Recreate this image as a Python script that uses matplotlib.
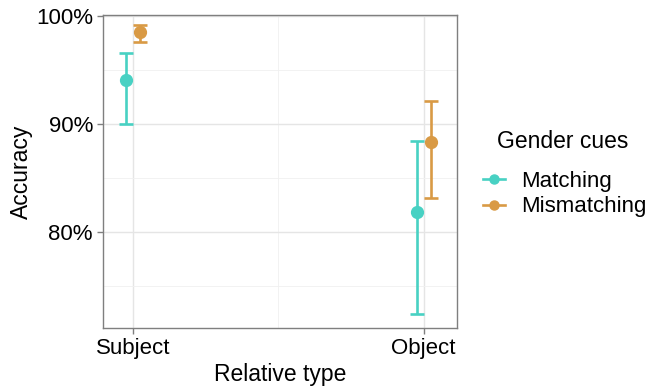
import matplotlib
matplotlib.use("Agg")
import matplotlib.pyplot as plt
from matplotlib.lines import Line2D
import numpy as np

plt.rcParams['font.family'] = ['Liberation Sans', 'DejaVu Sans']

categories = ["Subject", "Object"]
groups = ["Matching", "Mismatching"]
means = {"Matching": [94.1, 81.8], "Mismatching": [98.5, 88.3]}
lower = {"Matching": [90.0, 72.4], "Mismatching": [97.6, 83.1]}
upper = {"Matching": [96.6, 88.4], "Mismatching": [99.15, 92.1]}
colors = {"Matching": "#48D1C3", "Mismatching": "#D99A45"}
yticks = [80, 90, 100]
ytick_labels = ["80%", "90%", "100%"]

fig = plt.figure(figsize=(6.5, 3.88), dpi=100)
ax = fig.add_axes([0.158, 0.155, 0.545, 0.806])

x = np.arange(1, len(categories) + 1)
offsets = {"Matching": -0.024, "Mismatching": 0.024}
for g in groups:
    xs = x + offsets[g]
    m = np.array(means[g])
    lo = m - np.array(lower[g])
    hi = np.array(upper[g]) - m
    ax.errorbar(xs, m, yerr=[lo, hi], fmt='none', ecolor=colors[g],
                elinewidth=1.9, capsize=5.2, capthick=1.9, zorder=3)
    ax.plot(xs, m, 'o', color=colors[g], markersize=8.5, zorder=4)

ax.set_xlim(0.895, 2.115)
ax.set_ylim(71.1, 100.1)
ax.set_xticks(x)
ax.set_xticklabels(categories)
ax.set_xticks([1.5], minor=True)
ax.set_yticks(yticks)
ax.set_yticklabels(ytick_labels)
ax.set_yticks([75, 85, 95], minor=True)
ax.grid(True, which='major', color='#E5E5E5', linewidth=1.0, zorder=0)
ax.grid(True, which='minor', color='#F0F0F0', linewidth=0.6, zorder=0)
ax.set_axisbelow(True)
for s in ax.spines.values():
    s.set_color('#7F7F7F')
    s.set_linewidth(1.0)
ax.tick_params(axis='both', which='major', labelsize=16, colors='#7F7F7F',
               labelcolor='black', length=4, width=1.0, pad=3)
ax.tick_params(axis='both', which='minor', length=0)
ax.set_xlabel("Relative type", fontsize=16.5, labelpad=3)
ax.set_ylabel("Accuracy", fontsize=16.5, labelpad=2)

handles = [Line2D([0], [0], color=colors[g], marker='o', markersize=6.5,
                  linewidth=1.9) for g in groups]
leg = fig.legend(handles, groups, loc='upper left',
                 bbox_to_anchor=(483 / 650, 1 - 171 / 388), frameon=False,
                 fontsize=16, handlelength=1.0, handletextpad=0.7,
                 labelspacing=0.2, borderaxespad=0, borderpad=0)
fig.text(497 / 650, 1 - 142 / 388, "Gender cues", fontsize=16.5,
         ha='left', va='center')

fig.savefig("out.png", dpi=100)
